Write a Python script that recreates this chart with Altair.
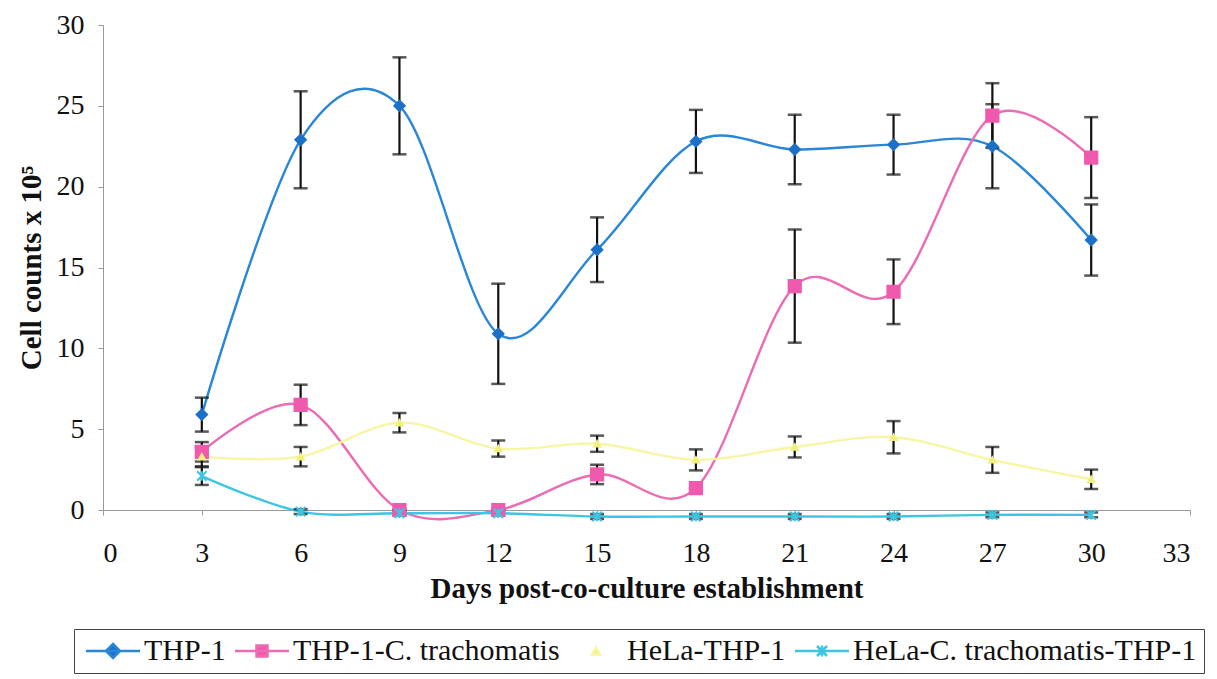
import altair as alt
import pandas as pd

# ---- data ----
days = [3, 6, 9, 12, 15, 18, 21, 24, 27, 30]
series_names = ["THP-1", "THP-1-C. trachomatis", "HeLa-THP-1", "HeLa-C. trachomatis-THP-1"]

thp1 = [5.9, 22.9, 25.0, 10.9, 16.1, 22.8, 22.3, 22.6, 22.5, 16.7]
thp1_err = [1.05, 3.0, 3.0, 3.1, 2.0, 1.95, 2.15, 1.85, 2.6, 2.2]

thp1_ct = [3.6, 6.5, 0.0, 0.0, 2.2, 1.35, 13.85, 13.5, 24.4, 21.8]
thp1_ct_err = [0.6, 1.25, 0.0, 0.0, 0.6, 0.0, 3.5, 2.0, 2.0, 2.5]

hela_thp1 = [3.3, 3.3, 5.4, 3.8, 4.1, 3.1, 3.9, 4.5, 3.1, 1.9]
hela_thp1_err = [0.6, 0.6, 0.6, 0.5, 0.5, 0.65, 0.65, 1.0, 0.8, 0.6]

hela_ct_thp1 = [2.1, -0.1, -0.2, -0.2, -0.4, -0.4, -0.4, -0.4, -0.3, -0.3]
hela_ct_thp1_err = [0.55, 0.15, 0.15, 0.15, 0.15, 0.15, 0.15, 0.15, 0.15, 0.15]

x_ticks = [0, 3, 6, 9, 12, 15, 18, 21, 24, 27, 30, 33]
y_ticks = [0, 5, 10, 15, 20, 25, 30]

# ---- styles ----
line_colors = ["#2A86D6", "#EC6CB4", "#F6F6A4", "#3CC6E2"]
marker_fill = ["#1D70C8", "#F05AAE", "#F0F07A", "transparent"]
marker_stroke = ["#1D70C8", "#F05AAE", "#F0F07A", "#3CC6E2"]
marker_shape = [
    "diamond",
    "square",
    "triangle-up",
    "M-1,-1L1,1M-1,1L1,-1M0,-1V1",
]
marker_size = [110, 150, 40, 90]
legend_shapes = [
    "M-2.7,0H2.7M0,-0.7L0.7,0L0,0.7L-0.7,0Z",
    "M-2.7,0H2.7M-0.55,-0.55H0.55V0.55H-0.55Z",
    "M-0.4,0.35L0,-0.35L0.4,0.35Z",
    "M-2.7,0H2.7M-0.5,-0.5L0.5,0.5M-0.5,0.5L0.5,-0.5M0,-0.55V0.55",
]

values = [thp1, thp1_ct, hela_thp1, hela_ct_thp1]
errors = [thp1_err, thp1_ct_err, hela_thp1_err, hela_ct_thp1_err]

rows = []
for i, name in enumerate(series_names):
    for d, v, e in zip(days, values[i], errors[i]):
        rows.append({
            "series": name, "order": i, "day": d, "value": v,
            "lo": v - e, "hi": v + e,
            "lcolor": line_colors[i], "mfill": marker_fill[i], "mstroke": marker_stroke[i],
            "mshape": marker_shape[i], "msize": marker_size[i],
        })
df = pd.DataFrame(rows)

FONT = "Liberation Serif"

x = alt.X("day:Q", title="Days post-co-culture establishment",
          scale=alt.Scale(domain=[0, 33], nice=False, zero=False),
          axis=alt.Axis(values=x_ticks, labelFontSize=28, labelFont=FONT, labelPadding=24,
                        titleFontSize=29, titleFont=FONT, titleFontWeight="bold", titlePadding=7,
                        domainColor="#9a9a9a", tickColor="#9a9a9a", tickSize=5, grid=False,
                        labelColor="#111", titleColor="#111"))
y = alt.Y("value:Q", title="Cell counts x 10⁵",
          scale=alt.Scale(domain=[0, 30], nice=False, zero=False),
          axis=alt.Axis(values=y_ticks, labelFontSize=28, labelFont=FONT, labelPadding=14,
                        titleFontSize=29, titleFont=FONT, titleFontWeight="bold", titlePadding=10,
                        domainColor="#9a9a9a", tickColor="#9a9a9a", tickSize=5, grid=False,
                        labelColor="#111", titleColor="#111"))

base = alt.Chart(df)

lines = base.mark_line(interpolate="cardinal", strokeWidth=2.4).encode(
    x=x, y=y,
    color=alt.Color("lcolor:N", scale=None),
    detail="series:N",
    order="day:Q",
)

err_rule = base.mark_rule(color="#111", strokeWidth=2.2).encode(
    x="day:Q", y="lo:Q", y2="hi:Q")
err_lo = base.mark_tick(color="#111", thickness=2.5, size=14, orient="horizontal").encode(
    x="day:Q", y="lo:Q")
err_hi = base.mark_tick(color="#111", thickness=2.5, size=14, orient="horizontal").encode(
    x="day:Q", y="hi:Q")

points = base.mark_point(strokeWidth=2, opacity=1).encode(
    x="day:Q", y="value:Q",
    shape=alt.Shape("mshape:N", scale=None),
    fill=alt.Fill("mfill:N", scale=None),
    stroke=alt.Stroke("mstroke:N", scale=None),
    size=alt.Size("msize:Q", scale=None),
)

legend_layer = base.mark_point(opacity=0, filled=False, strokeWidth=2.5).encode(
    x="day:Q", y="value:Q",
    color=alt.Color("series:N", scale=alt.Scale(domain=series_names, range=line_colors),
                    legend=alt.Legend(title=None, orient="none", direction="horizontal",
                                      columns=4, legendX=-29, legendY=604,
                                      symbolSize=400, symbolOpacity=1, symbolStrokeWidth=2.5,
                                      symbolOffset=17, labelOffset=16,
                                      labelFont=FONT, labelFontSize=30, labelColor="#111",
                                      labelLimit=600, columnPadding=4,
                                      strokeColor="#444", padding=7)),
    fill=alt.Fill("series:N", scale=alt.Scale(domain=series_names, range=marker_stroke), legend=None),
    shape=alt.Shape("series:N", scale=alt.Scale(domain=series_names, range=legend_shapes), legend=None),
)

chart = alt.layer(lines, err_rule, err_lo, err_hi, points, legend_layer).properties(
    width=1087, height=485,
    autosize=alt.AutoSizeParams(type="none"),
    padding={"left": 103, "top": 25, "right": 27, "bottom": 169},
    background="white",
).configure_view(stroke=None)

chart.save("out.html", embed_options={"renderer": "svg", "actions": False})
